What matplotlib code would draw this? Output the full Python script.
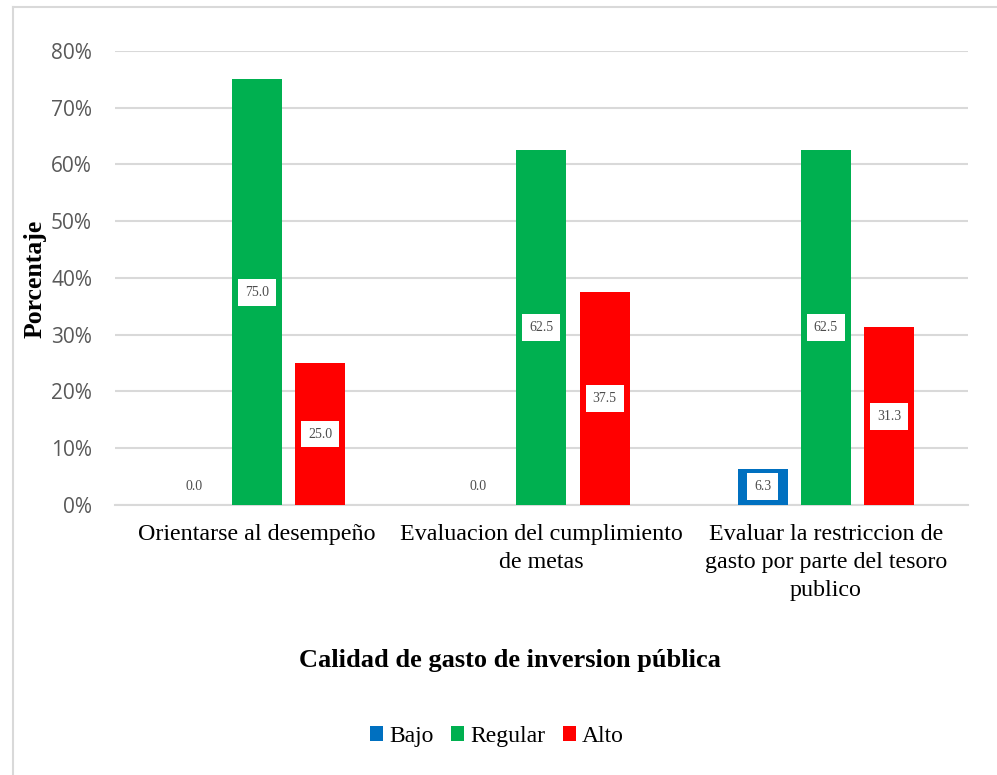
import numpy as np
import matplotlib
matplotlib.use("Agg")
from matplotlib import pyplot as plt
from matplotlib.lines import Line2D

# Categories and percentages per level
categorias = ["Orientarse al desempeño",
              "Evaluacion del cumplimiento\nde metas",
              "Evaluar la restriccion de\ngasto por parte del tesoro\npublico"]
niveles = ["Bajo", "Regular", "Alto"]
bajo = [0.0, 0.0, 6.3]
regular = [75.0, 62.5, 62.5]
alto = [25.0, 37.5, 31.3]
colores = ["#0070c0", "#00b050", "#ff0000"]

serie = "Liberation Serif"
grid_c = "#d9d9d9"

fig = plt.figure(figsize=(9.97, 7.75), dpi=100)
ax = fig.add_axes([0.1153, 0.3484, 0.8556, 0.5858])

# chart border (left and top edges visible)
fig.add_artist(Line2D([0.0135, 0.0135], [0, 0.991], color=grid_c, lw=1.5, transform=fig.transFigure))
fig.add_artist(Line2D([0.0135, 1.0], [0.991, 0.991], color=grid_c, lw=1.5, transform=fig.transFigure))

x = np.arange(len(categorias))
ancho = 0.176
paso = 0.222

for i, (vals, nom, col) in enumerate(zip([bajo, regular, alto], niveles, colores)):
    pos = x + (i - 1) * paso
    ax.bar(pos, vals, width=ancho, color=col, label=nom, zorder=3)
    for p, v in zip(pos, vals):
        ax.text(p, max(v / 2, 3.2), f"{v:.1f}", ha="center", va="center",
                fontsize=10, family=serie, color="#4d4d4d", zorder=4,
                bbox=dict(boxstyle="square,pad=0.5", fc="white", ec="none"))

ax.set_xlim(-0.5, 2.5)
ax.set_ylim(0, 80)
ax.set_yticks(np.arange(0, 81, 10))
ax.set_yticklabels([f"{t}%" for t in range(0, 81, 10)])
ax.yaxis.grid(True, color=grid_c, lw=1.5, zorder=0)
ax.set_axisbelow(True)
for s in ["top", "right", "left"]:
    ax.spines[s].set_visible(False)
ax.spines["bottom"].set_color(grid_c)
ax.spines["bottom"].set_linewidth(1.5)
ax.tick_params(axis="y", length=0, pad=16.5, labelsize=15, labelcolor="#595959")
for lab in ax.get_yticklabels():
    lab.set_family("Open Sans")
ax.tick_params(axis="x", length=0, pad=14)
ax.set_xticks(x)
ax.set_xticklabels(categorias, family=serie, fontsize=17.3, color="black", linespacing=1.42, va="top")

fig.text(0.035, 0.64, "Porcentaje", rotation=90, ha="center", va="center",
         family=serie, fontsize=18.5, fontweight="bold")
fig.text(0.511, 0.148, "Calidad de gasto de inversion pública", ha="center", va="center",
         family=serie, fontsize=19, fontweight="bold")

leg = fig.legend(loc="center", bbox_to_anchor=(0.4985, 0.05), ncol=3, frameon=False,
                 prop=dict(family=serie, size=17), handlelength=0.55, handleheight=0.55,
                 handletextpad=0.25, columnspacing=0.75)

fig.savefig("out.png", dpi=100)
